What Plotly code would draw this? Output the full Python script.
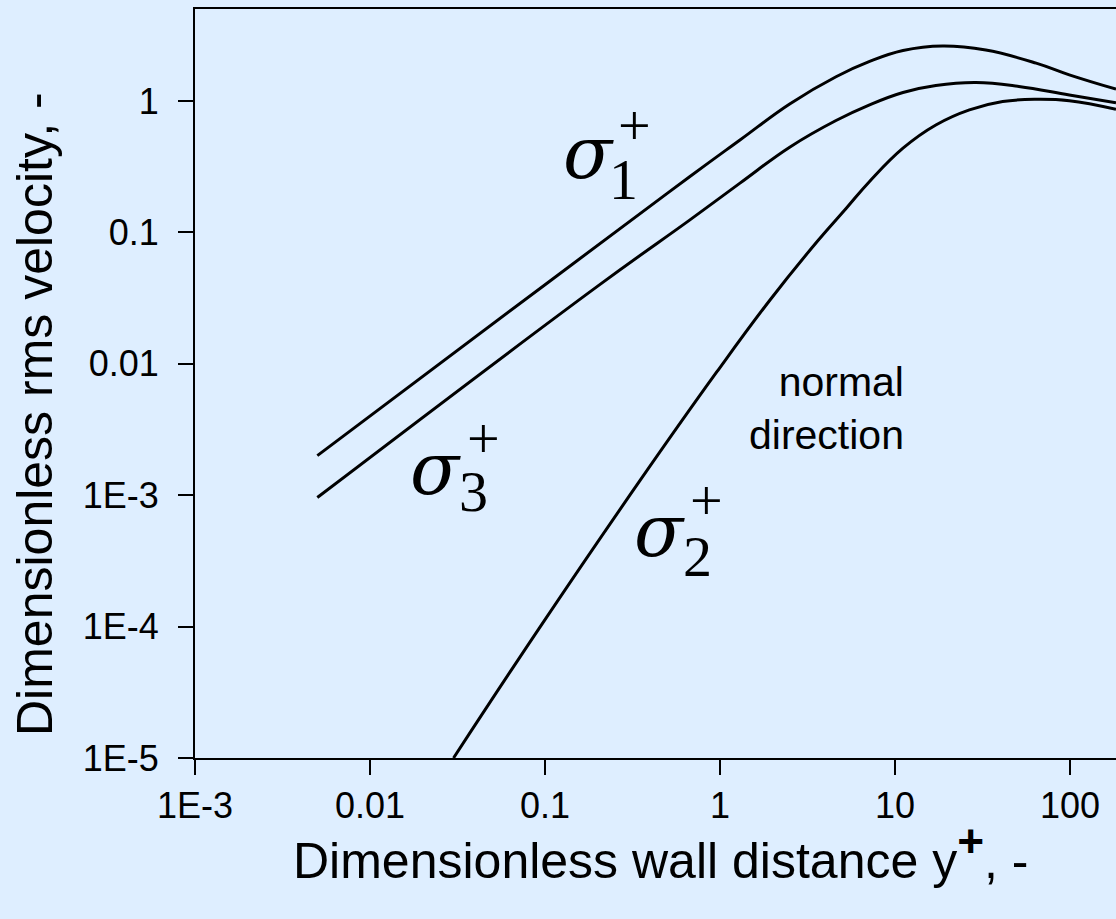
import numpy as np
import plotly.graph_objects as go

# Dimensionless rms velocity fluctuations vs. wall distance y+
# sigma1: streamwise, sigma3: spanwise, sigma2: wall-normal
yplus_1 = [0.005, 0.1, 0.67, 1.3, 2.5, 4.6, 7.1, 11.1, 18.7, 33, 64, 99, 183]
sigma_1 = [0.002, 0.040, 0.265, 0.505, 0.95, 1.53, 1.99, 2.42, 2.62, 2.44, 1.94, 1.58, 1.23]

yplus_3 = [0.005, 0.2, 0.67, 1.3, 2.5, 4.6, 7.1, 11.1, 17.1, 29, 51, 99, 183]
sigma_3 = [0.00096, 0.039, 0.124, 0.237, 0.445, 0.71, 0.93, 1.16, 1.31, 1.38, 1.29, 1.11, 0.97]

yplus_2 = [0.03, 0.094, 0.35, 0.96, 1.93, 3.65, 5.25, 7.13, 11.1, 17.1, 26.6, 41.2, 64, 99, 183]
sigma_2 = [1e-5, 1e-4, 0.0013, 0.0087, 0.0306, 0.0875, 0.152, 0.243, 0.437, 0.656, 0.855, 0.99, 1.03, 1.005, 0.865]

x_ticks = [1e-3, 1e-2, 1e-1, 1, 10, 100]
x_ticktext = ["1E-3", "0.01", "0.1", "1", "10", "100"]
y_ticks = [1e-5, 1e-4, 1e-3, 1e-2, 1e-1, 1]
y_ticktext = ["1E-5", "1E-4", "1E-3", "0.01", "0.1", "1"]

BG = "#DEEEFF"
SANS = "Arial, Liberation Sans, sans-serif"
SERIF = "Times New Roman, Liberation Serif, serif"
GREEK = "DejaVu Serif, serif"

fig = go.Figure()
for xs, ys, name in [(yplus_1, sigma_1, "sigma1"), (yplus_3, sigma_3, "sigma3"), (yplus_2, sigma_2, "sigma2")]:
    fig.add_trace(go.Scatter(
        x=xs, y=ys, mode="lines", name=name,
        line=dict(color="black", width=3, shape="spline", smoothing=1.2),
        showlegend=False, hoverinfo="skip",
    ))


def lg(v):
    return float(np.log10(v))


# curve labels: sigma glyph, index digit and "+" placed separately
labels = [
    ("<i>σ</i>", GREEK, 72, 0.178, 0.405),
    ("1", SERIF, 58, 0.281, 0.2546),
    ("+", SERIF, 58, 0.323, 0.656),
    ("<i>σ</i>", GREEK, 72, 0.0238, 0.00159),
    ("3", SERIF, 58, 0.0388, 0.00106),
    ("+", SERIF, 58, 0.0443, 0.00272),
    ("<i>σ</i>", GREEK, 72, 0.448, 0.000538),
    ("2", SERIF, 58, 0.748, 0.000344),
    ("+", SERIF, 58, 0.832, 0.000918),
]
for text, family, size, xv, yv in labels:
    fig.add_annotation(
        x=lg(xv), y=lg(yv), xref="x", yref="y", text=text, showarrow=False,
        xanchor="center", yanchor="middle",
        font=dict(family=family, size=size, color="black"),
    )

fig.add_annotation(
    x=lg(11.6), y=lg(0.00453), xref="x", yref="y",
    text="normal<br>direction", showarrow=False, align="right",
    xanchor="right", yanchor="middle",
    font=dict(family=SANS, size=41, color="black"),
)

# axis titles
fig.add_annotation(
    x=-0.1737, y=0.4593, xref="paper", yref="paper",
    text="Dimensionless rms velocity, -", textangle=-90, showarrow=False,
    xanchor="center", yanchor="middle",
    font=dict(family=SANS, size=50, color="black"),
)
fig.add_annotation(
    x=0.505, y=-0.1782, xref="paper", yref="paper",
    text="Dimensionless wall distance y<sup><span style='font-size:46px'><b>+</b></span></sup>, -",
    showarrow=False, xanchor="center", yanchor="bottom",
    font=dict(family=SANS, size=50, color="black"),
)

fig.update_layout(
    width=1116, height=919,
    margin=dict(l=195, r=0, t=9, b=161, autoexpand=False),
    paper_bgcolor=BG, plot_bgcolor=BG,
    xaxis=dict(
        type="log", range=[-3, 2.2625],
        tickmode="array", tickvals=x_ticks, ticktext=x_ticktext,
        ticks="outside", ticklen=15, tickwidth=2, tickcolor="black",
        showline=True, linecolor="black", linewidth=2, mirror=True,
        showgrid=False, zeroline=False,
        tickfont=dict(family=SANS, size=36, color="black"),
    ),
    yaxis=dict(
        type="log", range=[-5, 0.70],
        tickmode="array", tickvals=y_ticks, ticktext=y_ticktext,
        ticks="outside", ticklen=15, tickwidth=2, tickcolor="black",
        showline=True, linecolor="black", linewidth=2, mirror=False,
        showgrid=False, zeroline=False,
        tickfont=dict(family=SANS, size=36, color="black"),
        ticklabelstandoff=12,
    ),
)

fig.write_html("out.html")
